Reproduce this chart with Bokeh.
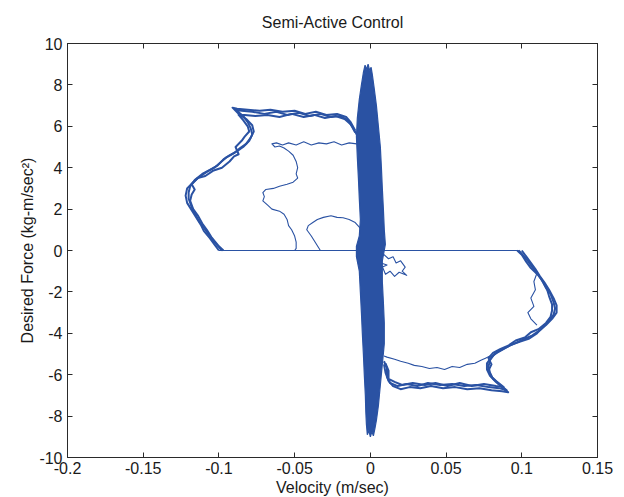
from bokeh.plotting import figure
from bokeh.models import LinearAxis, FixedTicker, Range1d, CustomJSTickFormatter
from bokeh.embed import file_html
from bokeh.resources import INLINE

# ---------------- data ----------------
x_ticks = [-0.2, -0.15, -0.1, -0.05, 0.0, 0.05, 0.1, 0.15]
x_tick_labels = ["-0.2", "-0.15", "-0.1", "-0.05", "0", "0.05", "0.1", "0.15"]
y_ticks = [-10, -8, -6, -4, -2, 0, 2, 4, 6, 8, 10]
y_tick_labels = ["-10", "-8", "-6", "-4", "-2", "0", "2", "4", "6", "8", "10"]

# dense, fast oscillation band around zero velocity (outline)
band_x = [-0.0046, -0.0059, -0.0073, -0.0086, -0.0092, -0.0086, -0.0079, -0.0073, -0.0066, -0.0073,
          -0.0092, -0.0092, -0.0073, -0.0066, -0.0059, -0.0053, -0.0046, -0.0040, -0.0033, -0.0030,
          -0.0026, -0.0020, -0.0010, 0.0000, 0.0010, 0.0020, 0.0030,
          0.0040, 0.0053, 0.0066, 0.0079, 0.0092, 0.0092, 0.0086, 0.0079, 0.0079, 0.0099,
          0.0092, 0.0086, 0.0079, 0.0073, 0.0066, 0.0053, 0.0040, 0.0026, 0.0013,
          0.0005, -0.0005, -0.0015, -0.0025, -0.0035]
band_y = [8.6, 8.0, 7.3, 6.4, 5.5, 4.5, 3.5, 2.5, 1.5, 0.7,
          0.2, -0.3, -1.0, -2.0, -3.0, -4.0, -5.0, -6.0, -7.0, -7.8,
          -8.4, -8.9, -8.7, -9.0, -8.75, -8.95, -8.6,
          -8.2, -7.5, -6.5, -5.5, -4.5, -3.5, -2.5, -1.5, -0.5, 0.3,
          1.0, 2.0, 3.0, 4.0, 5.0, 6.0, 7.0, 7.8, 8.5,
          8.85, 8.7, 9.0, 8.75, 8.95]

# zero-force segment
zero_x = [-0.1, 0.098]
zero_y = [0.0, 0.0]

# upper-left outer loop, three passes
ul1_x = [-0.098, -0.101, -0.104, -0.107, -0.110, -0.113, -0.116, -0.118, -0.120, -0.120, -0.119, -0.116,
         -0.111, -0.106, -0.101, -0.097, -0.093, -0.088, -0.084, -0.080, -0.078, -0.079, -0.081, -0.084,
         -0.089, -0.085, -0.078, -0.070, -0.062, -0.055, -0.047, -0.040, -0.033, -0.026, -0.020, -0.015,
         -0.012, -0.009]
ul1_y = [0.0, 0.25, 0.5, 0.8, 1.1, 1.4, 1.8, 2.1, 2.5, 2.8, 3.1, 3.4,
         3.7, 3.9, 4.1, 4.4, 4.6, 4.8, 5.0, 5.3, 5.6, 5.9, 6.2, 6.5,
         6.8, 6.75, 6.7, 6.6, 6.7, 6.55, 6.65, 6.5, 6.6, 6.45, 6.5, 6.3,
         6.0, 5.6]
ul2_x = [-0.100, -0.103, -0.106, -0.110, -0.112, -0.115, -0.118, -0.121, -0.122, -0.121, -0.117, -0.113,
         -0.108, -0.103, -0.099, -0.095, -0.090, -0.086, -0.082, -0.079, -0.077, -0.078, -0.082, -0.087,
         -0.091, -0.088, -0.081, -0.073, -0.066, -0.058, -0.050, -0.043, -0.036, -0.029, -0.022, -0.016,
         -0.013, -0.010]
ul2_y = [0.0, 0.3, 0.6, 0.95, 1.25, 1.6, 1.95, 2.3, 2.65, 3.0, 3.3, 3.55,
         3.8, 4.0, 4.25, 4.5, 4.7, 4.95, 5.15, 5.45, 5.75, 6.05, 6.35, 6.6,
         6.9, 6.85, 6.8, 6.75, 6.8, 6.7, 6.75, 6.6, 6.7, 6.55, 6.6, 6.45,
         6.2, 5.8]
ul3_x = [-0.097, -0.100, -0.105, -0.108, -0.111, -0.114, -0.117, -0.119, -0.118, -0.116, -0.118, -0.114,
         -0.109, -0.104, -0.098, -0.093, -0.090, -0.087, -0.089, -0.085, -0.083, -0.080, -0.081, -0.084,
         -0.087, -0.083, -0.076, -0.068, -0.060, -0.052, -0.044, -0.037, -0.030, -0.023, -0.017, -0.013,
         -0.010]
ul3_y = [0.0, 0.2, 0.65, 1.0, 1.3, 1.7, 2.0, 2.4, 2.7, 2.95, 3.2, 3.5,
         3.6, 3.85, 4.0, 4.3, 4.55, 4.65, 5.0, 5.3, 5.5, 5.75, 6.0, 6.3,
         6.55, 6.55, 6.5, 6.55, 6.45, 6.6, 6.45, 6.55, 6.4, 6.5, 6.35, 6.1,
         5.7]

# upper-left inner path
uli_x = [-0.009, -0.014, -0.019, -0.024, -0.029, -0.034, -0.039, -0.044, -0.049, -0.054, -0.058, -0.062,
         -0.065, -0.063, -0.060, -0.057, -0.054, -0.051, -0.049, -0.048, -0.049, -0.048, -0.051, -0.055,
         -0.060, -0.064, -0.069, -0.071, -0.070, -0.071, -0.068, -0.065, -0.060, -0.057, -0.055, -0.054,
         -0.052, -0.050, -0.049, -0.049, -0.050]
uli_y = [5.15, 5.2, 5.1, 5.25, 5.15, 5.2, 5.1, 5.25, 5.1, 5.2, 5.1, 5.2,
         5.15, 5.0, 5.05, 4.95, 4.8, 4.6, 4.3, 4.0, 3.7, 3.5, 3.3, 3.2,
         3.1, 3.0, 2.95, 2.8, 2.6, 2.4, 2.2, 2.0, 1.9, 1.75, 1.5, 1.2,
         1.0, 0.7, 0.4, 0.1, 0.0]

# upper-left small arch
arch_x = [-0.033, -0.036, -0.039, -0.042, -0.041, -0.038, -0.035, -0.031, -0.026, -0.022, -0.018, -0.014,
          -0.010, -0.007, -0.005]
arch_y = [0.0, 0.35, 0.7, 1.0, 1.2, 1.35, 1.5, 1.6, 1.68, 1.6, 1.58, 1.5,
          1.35, 1.1, 0.9]

# lower-right outer loop, three passes
lr1_x = [0.098, 0.101, 0.104, 0.107, 0.110, 0.113, 0.116, 0.119, 0.121, 0.122, 0.121, 0.118,
         0.114, 0.110, 0.105, 0.099, 0.093, 0.087, 0.082, 0.079, 0.078, 0.079, 0.081, 0.085,
         0.090, 0.085, 0.078, 0.070, 0.062, 0.054, 0.046, 0.038, 0.031, 0.024, 0.018, 0.013,
         0.011, 0.011, 0.009]
lr1_y = [0.0, -0.25, -0.5, -0.8, -1.1, -1.4, -1.8, -2.1, -2.5, -2.8, -3.1, -3.4,
         -3.7, -4.0, -4.25, -4.4, -4.55, -4.8, -5.0, -5.3, -5.6, -5.9, -6.2, -6.45,
         -6.75, -6.65, -6.6, -6.5, -6.55, -6.45, -6.5, -6.4, -6.55, -6.45, -6.55, -6.4,
         -6.1, -5.7, -5.35]
lr2_x = [0.100, 0.103, 0.106, 0.109, 0.112, 0.115, 0.118, 0.121, 0.123, 0.123, 0.120, 0.116,
         0.112, 0.107, 0.101, 0.095, 0.089, 0.084, 0.080, 0.077, 0.077, 0.079, 0.083, 0.087,
         0.091, 0.087, 0.080, 0.072, 0.064, 0.056, 0.048, 0.040, 0.033, 0.026, 0.020, 0.015,
         0.012, 0.010, 0.009]
lr2_y = [0.0, -0.3, -0.6, -0.9, -1.25, -1.55, -1.9, -2.3, -2.65, -3.0, -3.3, -3.6,
         -3.85, -4.1, -4.3, -4.5, -4.7, -4.9, -5.15, -5.45, -5.75, -6.05, -6.35, -6.6,
         -6.85, -6.8, -6.75, -6.65, -6.7, -6.6, -6.65, -6.55, -6.65, -6.6, -6.7, -6.55,
         -6.3, -5.9, -5.5]
lr3_x = [0.097, 0.100, 0.103, 0.106, 0.111, 0.114, 0.117, 0.118, 0.120, 0.120, 0.119, 0.116,
         0.111, 0.106, 0.102, 0.096, 0.091, 0.086, 0.081, 0.078, 0.080, 0.078, 0.080, 0.083,
         0.088, 0.083, 0.075, 0.067, 0.059, 0.051, 0.043, 0.036, 0.028, 0.021, 0.016, 0.012,
         0.012, 0.010]
lr3_y = [0.0, -0.2, -0.55, -0.85, -1.2, -1.5, -1.95, -2.2, -2.6, -2.9, -3.2, -3.5,
         -3.8, -3.95, -4.2, -4.35, -4.6, -4.75, -4.95, -5.2, -5.5, -5.8, -6.1, -6.3,
         -6.6, -6.55, -6.45, -6.55, -6.4, -6.55, -6.4, -6.5, -6.4, -6.5, -6.35, -6.2,
         -5.8, -5.45]

# lower-right inner path
lri_x = [0.009, 0.011, 0.016, 0.020, 0.025, 0.029, 0.034, 0.039, 0.044, 0.049, 0.054, 0.059,
         0.064, 0.069, 0.073, 0.076, 0.079]
lri_y = [-5.1, -5.15, -5.25, -5.35, -5.45, -5.55, -5.6, -5.7, -5.65, -5.75, -5.6, -5.65,
         -5.5, -5.45, -5.3, -5.2, -5.1]

# lower-right inner wiggle near the outer edge
lrw_x = [0.110, 0.108, 0.109, 0.106, 0.108, 0.104, 0.106, 0.110]
lrw_y = [-1.1, -1.5, -1.9, -2.3, -2.7, -3.0, -3.3, -3.6]

# small blob right of the band just below zero
blob_x = [0.006, 0.009, 0.012, 0.015, 0.017, 0.020, 0.023, 0.021, 0.024, 0.019, 0.016, 0.013,
          0.010, 0.008, 0.011, 0.007]
blob_y = [-0.3, -0.2, -0.4, -0.3, -0.6, -0.5, -0.8, -1.0, -1.2, -1.05, -1.25, -1.0,
          -1.15, -0.8, -0.7, -0.6]

# ---------------- figure ----------------
BLUE = "#2a52a3"
FONT = "Liberation Sans"
TXT = "#1a1a1a"
AX = "#2a2a2a"

p = figure(frame_width=530, frame_height=414,
           x_range=Range1d(-0.2, 0.15), y_range=Range1d(-10, 10),
           output_backend="svg", toolbar_location=None,
           min_border_left=67, min_border_right=27, min_border_top=43, min_border_bottom=40,
           title="Semi-Active Control")

p.title.align = "center"
p.title.vertical_align = "top"
p.title.text_font = FONT
p.title.text_font_size = "16px"
p.title.text_font_style = "normal"
p.title.text_color = TXT
p.title.standoff = 22

p.grid.visible = False
p.outline_line_color = AX
p.outline_line_width = 1
p.background_fill_color = "white"
p.border_fill_color = "white"

for ax in (p.xaxis[0], p.yaxis[0]):
    ax.major_tick_in = 5
    ax.major_tick_out = 0
    ax.minor_tick_in = 0
    ax.minor_tick_out = 0
    ax.axis_line_color = AX
    ax.major_tick_line_color = AX
    ax.major_label_text_font = FONT
    ax.major_label_text_font_size = "16px"
    ax.major_label_text_color = TXT
    ax.axis_label_text_font = FONT
    ax.axis_label_text_font_size = "16px"
    ax.axis_label_text_font_style = "normal"
    ax.axis_label_text_color = TXT

p.xaxis[0].ticker = FixedTicker(ticks=x_ticks)
p.xaxis[0].major_label_overrides = dict(zip(x_ticks, x_tick_labels))
p.xaxis[0].axis_label = "Velocity (m/sec)"
p.xaxis[0].major_label_standoff = 4
p.xaxis[0].axis_label_standoff = 2

p.yaxis[0].ticker = FixedTicker(ticks=y_ticks)
p.yaxis[0].major_label_overrides = dict(zip(y_ticks, y_tick_labels))
p.yaxis[0].axis_label = "Desired Force (kg-m/sec\u00b2)"
p.yaxis[0].major_label_standoff = 5
p.yaxis[0].axis_label_standoff = 0

blank = CustomJSTickFormatter(code="return ''")
top_ax = LinearAxis(ticker=FixedTicker(ticks=x_ticks), formatter=blank, major_tick_in=5, major_tick_out=0,
                    minor_tick_in=0, minor_tick_out=0, major_label_text_font_size="1px",
                    major_label_standoff=0, axis_line_color=AX, major_tick_line_color=AX)
right_ax = LinearAxis(ticker=FixedTicker(ticks=y_ticks), formatter=blank, major_tick_in=5, major_tick_out=0,
                      minor_tick_in=0, minor_tick_out=0, major_label_text_font_size="1px",
                      major_label_standoff=0, axis_line_color=AX, major_tick_line_color=AX)
p.add_layout(top_ax, "above")
p.add_layout(right_ax, "right")

# curves
p.line(zero_x, zero_y, line_color=BLUE, line_width=1.2)
for xs, ys in ((ul1_x, ul1_y), (ul2_x, ul2_y), (ul3_x, ul3_y),
               (lr1_x, lr1_y), (lr2_x, lr2_y), (lr3_x, lr3_y)):
    p.line(xs, ys, line_color=BLUE, line_width=2.0, line_join="round")
for xs, ys in ((uli_x, uli_y), (arch_x, arch_y), (lri_x, lri_y), (lrw_x, lrw_y), (blob_x, blob_y)):
    p.line(xs, ys, line_color=BLUE, line_width=1.1, line_join="round")
p.patch(band_x, band_y, fill_color=BLUE, line_color=BLUE, line_width=1.2)

open("out.html", "w").write(file_html(p, INLINE))
